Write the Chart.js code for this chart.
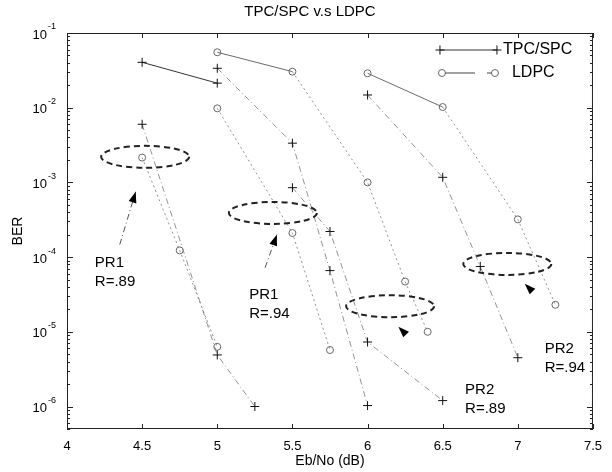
<!DOCTYPE html>
<html>
<head>
<meta charset="utf-8">
<script src="https://cdn.jsdelivr.net/npm/chart.js@4.4.1/dist/chart.umd.min.js"></script>
<style>
html, body { margin: 0; padding: 0; background: #fff; }
</style>
</head>
<body>
<canvas id="berChart" width="612" height="472"></canvas>
<script>
// axis ticks
var xTicks = [4, 4.5, 5, 5.5, 6, 6.5, 7, 7.5];
var yDecades = [-1, -2, -3, -4, -5, -6];

// TPC/SPC curves (Eb/No dB -> BER)
var tpcAx = [4.5, 5];
var tpcAy = [4.05e-2, 2.13e-2];
var tpcBx = [4.5, 5, 5.25];
var tpcBy = [6.0e-3, 4.9e-6, 1.0e-6];
var tpcCx = [5, 5.5, 5.75, 6];
var tpcCy = [3.37e-2, 3.35e-3, 6.6e-5, 1.03e-6];
var tpcDx = [5.5, 5.75, 6, 6.5];
var tpcDy = [8.5e-4, 2.2e-4, 7.3e-6, 1.2e-6];
var tpcEx = [6, 6.5, 6.75, 7];
var tpcEy = [1.48e-2, 1.17e-3, 7.5e-5, 4.5e-6];

// LDPC curves
var ldpcAx = [4.5, 4.75, 5];
var ldpcAy = [2.15e-3, 1.23e-4, 6.3e-6];
var ldpcBx = [5, 5.5, 5.75];
var ldpcBy = [9.8e-3, 2.1e-4, 5.7e-6];
var ldpcCx = [5, 5.5, 6, 6.25, 6.4];
var ldpcCy = [5.52e-2, 3.04e-2, 1.0e-3, 4.7e-5, 1.0e-5];
var ldpcDx = [6, 6.5, 7, 7.25];
var ldpcDy = [2.89e-2, 1.02e-2, 3.2e-4, 2.3e-5];

// annotation anchors (data coordinates)
var ellipseAt = [[4.52, 2.2e-3], [5.37, 3.9e-4], [6.15, 2.2e-5], [6.93, 8.1e-5]];
var arrowTail = [[4.351, 1.47e-4], [5.318, 7.2e-5], null, null];
var arrowTip = [[4.457, 7.5e-4], [5.397, 2.0e-4], [6.205, 1.17e-5], [7.046, 4.4e-5]];
var labelAt = [[4.185, 8.4e-5], [5.212, 3.14e-5], [6.649, 1.69e-6], [7.179, 5.96e-6]];
var labelText = [['PR1', 'R=.89'], ['PR1', 'R=.94'], ['PR2', 'R=.89'], ['PR2', 'R=.94']];

function pts(xs, ys) {
    return xs.map(function (x, i) { return { x: x, y: ys[i] }; });
}

var dashDot = [6, 3, 1, 3];
var fontFam = 'Arial, "Liberation Sans", sans-serif';

function tpcSet(xs, ys, solid) {
    return {
        data: pts(xs, ys),
        borderColor: solid ? '#333' : '#777',
        borderWidth: solid ? 1 : 0.8,
        borderDash: solid ? [] : dashDot,
        pointStyle: 'cross',
        pointRadius: 4.5,
        pointBorderColor: '#111',
        pointBorderWidth: 1,
        fill: false,
        tension: 0
    };
}

function ldpcSet(xs, ys, firstSolid) {
    return {
        data: pts(xs, ys),
        borderColor: '#777',
        borderWidth: 0.8,
        borderDash: [2, 3],
        segment: {
            borderDash: function (ctx) { return (firstSolid && ctx.p0DataIndex === 0) ? [] : [2, 3]; },
            borderColor: function (ctx) { return (firstSolid && ctx.p0DataIndex === 0) ? '#444' : '#777'; }
        },
        pointStyle: 'circle',
        pointRadius: 3.5,
        pointBackgroundColor: 'rgba(0,0,0,0)',
        pointBorderColor: '#666',
        pointBorderWidth: 1,
        fill: false,
        tension: 0
    };
}

function drawHead(ctx, fx, fy, tx, ty) {
    var a = Math.atan2(ty - fy, tx - fx);
    ctx.beginPath();
    ctx.moveTo(tx, ty);
    ctx.lineTo(tx - 11 * Math.cos(a) + 4 * Math.sin(a), ty - 11 * Math.sin(a) - 4 * Math.cos(a));
    ctx.lineTo(tx - 11 * Math.cos(a) - 4 * Math.sin(a), ty - 11 * Math.sin(a) + 4 * Math.cos(a));
    ctx.closePath();
    ctx.fill();
}

var extras = {
    id: 'extras',
    afterDraw: function (chart) {
        var ctx = chart.ctx;
        var a = chart.chartArea;
        var xs = chart.scales.x, ys = chart.scales.y;
        ctx.save();
        // title
        ctx.fillStyle = '#000';
        ctx.font = '15px ' + fontFam;
        ctx.textAlign = 'center';
        ctx.textBaseline = 'middle';
        ctx.fillText('TPC/SPC v.s LDPC', 310, 12);
        ctx.strokeStyle = '#222';
        ctx.lineWidth = 1;
        ctx.setLineDash([]);
        // frame
        ctx.strokeRect(a.left + 0.5, a.top + 0.5, a.right - a.left - 1, a.bottom - a.top - 1);
        // x ticks inward
        ctx.beginPath();
        xTicks.forEach(function (v) {
            var px = Math.round(xs.getPixelForValue(v)) + 0.5;
            ctx.moveTo(px, a.bottom); ctx.lineTo(px, a.bottom - 5);
            ctx.moveTo(px, a.top); ctx.lineTo(px, a.top + 5);
        });
        // y ticks, major and minor
        for (var d = -7; d <= -1; d++) {
            for (var m = 1; m <= 9; m++) {
                var v = m * Math.pow(10, d);
                if (v < ys.min || v > ys.max) continue;
                var py = Math.round(ys.getPixelForValue(v)) + 0.5;
                var len = m === 1 ? 6 : 3;
                ctx.moveTo(a.left, py); ctx.lineTo(a.left + len, py);
                ctx.moveTo(a.right, py); ctx.lineTo(a.right - len, py);
            }
        }
        ctx.stroke();
        // y tick labels with superscript
        yDecades.forEach(function (d) {
            var py = ys.getPixelForValue(Math.pow(10, d));
            ctx.font = '13px ' + fontFam;
            ctx.textAlign = 'right';
            ctx.textBaseline = 'middle';
            ctx.fillText('10', 47, py + 2);
            ctx.font = '9px ' + fontFam;
            ctx.textAlign = 'left';
            ctx.fillText(String(d), 48, py - 6);
        });
        // ellipses
        ctx.lineWidth = 2;
        ctx.setLineDash([6, 4]);
        ellipseAt.forEach(function (e) {
            ctx.beginPath();
            ctx.ellipse(xs.getPixelForValue(e[0]), ys.getPixelForValue(e[1]), 44, 11, 0, 0, Math.PI * 2);
            ctx.stroke();
        });
        // arrows
        ctx.lineWidth = 1;
        arrowTip.forEach(function (t, i) {
            var tx = xs.getPixelForValue(t[0]), ty = ys.getPixelForValue(t[1]);
            var fx, fy;
            if (arrowTail[i]) {
                fx = xs.getPixelForValue(arrowTail[i][0]);
                fy = ys.getPixelForValue(arrowTail[i][1]);
                ctx.setLineDash(dashDot);
                ctx.strokeStyle = '#555';
                ctx.beginPath();
                ctx.moveTo(fx, fy); ctx.lineTo(tx, ty);
                ctx.stroke();
            } else {
                fx = tx + 10; fy = ty + 10;
            }
            drawHead(ctx, fx, fy, tx, ty);
        });
        // labels
        ctx.setLineDash([]);
        ctx.font = '15px ' + fontFam;
        ctx.textAlign = 'left';
        ctx.textBaseline = 'middle';
        labelAt.forEach(function (p, i) {
            var lx = xs.getPixelForValue(p[0]), ly = ys.getPixelForValue(p[1]);
            ctx.fillText(labelText[i][0], lx, ly);
            ctx.fillText(labelText[i][1], lx, ly + 19);
        });
        // legend
        var lgX = a.right - 153;
        ctx.strokeStyle = '#333';
        ctx.lineWidth = 1;
        ctx.beginPath();
        ctx.moveTo(lgX, a.top + 17); ctx.lineTo(lgX + 57, a.top + 17);
        ctx.stroke();
        ctx.strokeStyle = '#111';
        [lgX, lgX + 57].forEach(function (cx) {
            ctx.beginPath();
            ctx.moveTo(cx - 4.5, a.top + 17); ctx.lineTo(cx + 4.5, a.top + 17);
            ctx.moveTo(cx, a.top + 12.5); ctx.lineTo(cx, a.top + 21.5);
            ctx.stroke();
        });
        ctx.strokeStyle = '#444';
        ctx.setLineDash([30, 12]);
        ctx.beginPath();
        ctx.moveTo(lgX + 5, a.top + 40); ctx.lineTo(lgX + 52, a.top + 40);
        ctx.stroke();
        ctx.setLineDash([]);
        ctx.strokeStyle = '#666';
        [lgX + 2, lgX + 55].forEach(function (cx) {
            ctx.beginPath();
            ctx.arc(cx, a.top + 40, 3.5, 0, Math.PI * 2);
            ctx.stroke();
        });
        ctx.font = '16px ' + fontFam;
        ctx.fillStyle = '#000';
        ctx.fillText('TPC/SPC', lgX + 63, a.top + 17);
        ctx.fillText('LDPC', lgX + 72, a.top + 40);
        ctx.restore();
    }
};

var ctx1 = document.getElementById('berChart').getContext('2d');
var berChart = new Chart(ctx1, {
    type: 'line',
    data: {
        datasets: [
            tpcSet(tpcAx, tpcAy, true),
            tpcSet(tpcBx, tpcBy, false),
            tpcSet(tpcCx, tpcCy, false),
            tpcSet(tpcDx, tpcDy, false),
            tpcSet(tpcEx, tpcEy, false),
            ldpcSet(ldpcAx, ldpcAy, false),
            ldpcSet(ldpcBx, ldpcBy, false),
            ldpcSet(ldpcCx, ldpcCy, true),
            ldpcSet(ldpcDx, ldpcDy, true)
        ]
    },
    options: {
        responsive: false,
        animation: false,
        layout: { padding: { left: 0, right: 16, top: 33, bottom: 0 } },
        scales: {
            x: {
                type: 'linear',
                min: 4,
                max: 7.5,
                afterBuildTicks: function (s) { s.ticks = xTicks.map(function (v) { return { value: v }; }); },
                afterFit: function (s) { s.height = 43; },
                ticks: {
                    color: '#000',
                    font: { size: 13, family: fontFam },
                    padding: 10,
                    maxRotation: 0,
                    callback: function (v) { return String(v); }
                },
                grid: { display: false, drawTicks: false },
                border: { display: false },
                title: {
                    display: true,
                    text: 'Eb/No (dB)',
                    color: '#000',
                    font: { size: 14, family: fontFam },
                    padding: { top: 2, bottom: 2 }
                }
            },
            y: {
                type: 'logarithmic',
                min: 5e-7,
                max: 0.1,
                afterFit: function (s) { s.width = 67; },
                ticks: { display: false },
                grid: { display: false, drawTicks: false },
                border: { display: false },
                title: {
                    display: true,
                    text: 'BER',
                    color: '#000',
                    font: { size: 14, family: fontFam },
                    padding: { top: 10, bottom: 10 }
                }
            }
        },
        plugins: {
            legend: { display: false },
            tooltip: { enabled: false },
            title: { display: false }
        }
    },
    plugins: [extras]
});
</script>
</body>
</html>
